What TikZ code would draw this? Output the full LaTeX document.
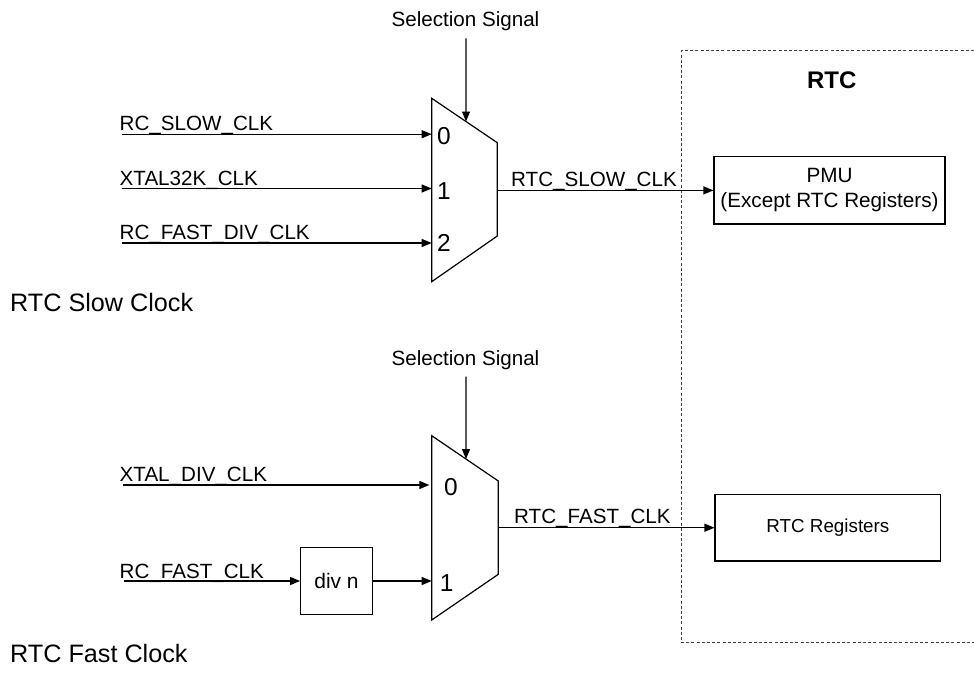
\documentclass[tikz,border=0pt]{standalone}
\usepackage{fontspec}
\setmainfont{Liberation Sans}
\usetikzlibrary{arrows.meta,calc}
\begin{document}
\begin{tikzpicture}[x=1pt,y=-1pt,
  wire/.style={line width=1.2pt,draw=black},
  arr/.style={wire,-{Triangle[length=10pt,width=8pt]}},
  lbl/.style={inner sep=0pt,font=\fontsize{20.6pt}{24pt}\selectfont},
  digit/.style={inner sep=0pt,font=\fontsize{24.5pt}{28pt}\selectfont},
  title/.style={inner sep=0pt,font=\fontsize{25.2pt}{29pt}\selectfont},
  blockbox/.style={draw,line width=1.2pt,inner sep=0pt,align=center},
  rtcframe/.style={draw=black!75,line width=1pt,dash pattern=on 3pt off 2.2pt}
]
\useasboundingbox (0,0) rectangle (974,672);

% ---------- RTC frame ----------
\draw[rtcframe] (974,50.7) -- (681.5,50.7) -- (681.5,642.7) -- (974,642.7);
\node[inner sep=0pt,font=\fontsize{24pt}{28pt}\selectfont\bfseries,anchor=base] (rtc) at (831.7,88.3) {RTC};

% ---------- Mux 1 ----------
\coordinate (m1tl) at (431.7,98.3);
\coordinate (m1bl) at (431.7,281.7);
\coordinate (m1tr) at (497.3,142.7);
\coordinate (m1br) at (497.3,236);
\draw[wire,line join=miter] (m1tl) -- (m1tr) -- (m1br) -- (m1bl) -- cycle;
\node[digit] (d10) at (444,136) {0};
\node[digit] (d11) at (444,190.7) {1};
\node[digit] (d12) at (444,242.7) {2};

% inputs of mux 1
\coordinate (i10) at (121.7,134.2);
\coordinate (i11) at (121.7,188.5);
\coordinate (i12) at (121.7,243.0);
\node[lbl,anchor=base west] (l10) at (119.5,130.7) {RC\_SLOW\_CLK};
\node[lbl,anchor=base west] (l11) at (119.5,185.0) {XTAL32K\_CLK};
\node[lbl,anchor=base west] (l12) at (119.5,239.5) {RC\_FAST\_DIV\_CLK};
\draw[arr] (i10) -- (i10 -| m1tl);
\draw[arr] (i11) -- (i11 -| m1tl);
\draw[arr] (i12) -- (i12 -| m1tl);

% selection signal 1
\node[lbl,anchor=base] (sel1) at (465.5,26) {Selection Signal};
\coordinate (s1top) at (466,38.3);
\coordinate (s1bot) at ($(m1tl)!0.523!(m1tr)$);
\draw[arr] (s1top) -- (s1bot);

% PMU
\node[blockbox,minimum width=231pt,minimum height=67.3pt,
      font=\fontsize{20.7pt}{25pt}\selectfont] (pmu) at (829.5,190.4)
      {PMU\\(Except RTC Registers)};
\coordinate (m1out) at (497.3,190.4);
\draw[arr] (m1out) -- (pmu.west);
\node[lbl,anchor=base west] (o1) at (511,186.5) {RTC\_SLOW\_CLK};

\node[title,anchor=base west] (slowt) at (10,311.7) {RTC Slow Clock};

% ---------- Mux 2 ----------
\coordinate (m2tl) at (431.7,435.7);
\coordinate (m2bl) at (431.7,620);
\coordinate (m2tr) at (498.3,481);
\coordinate (m2br) at (498.3,574.3);
\draw[wire,line join=miter] (m2tl) -- (m2tr) -- (m2br) -- (m2bl) -- cycle;
\node[digit] (d20) at (451,486.7) {0};
\node[digit] (d21) at (446.7,582.7) {1};

% selection signal 2
\node[lbl,anchor=base] (sel2) at (465.5,365.5) {Selection Signal};
\coordinate (s2top) at (466,376.7);
\coordinate (s2bot) at ($(m2tl)!0.515!(m2tr)$);
\draw[arr] (s2top) -- (s2bot);

% inputs of mux 2
\coordinate (i20) at (123,485);
\node[lbl,anchor=base west] (l20) at (119.5,481.5) {XTAL\_DIV\_CLK};
\coordinate (i20end) at (429.3,485);
\draw[arr] (i20) -- (i20end);

\node[blockbox,minimum width=71.6pt,minimum height=66.6pt,
      font=\fontsize{21pt}{25pt}\selectfont] (divn) at (336.5,581) {div n};
\coordinate (i21) at (124,581);
\node[lbl,anchor=base west] (l21) at (119.5,578.5) {RC\_FAST\_CLK};
\draw[arr] (i21) -- (divn.west);
\draw[arr] (divn.east) -- (divn.east -| m2tl);

% RTC registers
\node[blockbox,minimum width=225.7pt,minimum height=66.7pt,
      font=\fontsize{18.8pt}{22pt}\selectfont] (regs) at (827.9,527.7) {RTC Registers};
\coordinate (m2out) at (498.3,527.7);
\draw[arr] (m2out) -- (regs.west);
\node[lbl,anchor=base west] (o2) at (514,523.5) {RTC\_FAST\_CLK};

\node[title,anchor=base west] (fastt) at (10,662.3) {RTC Fast Clock};
\end{tikzpicture}
\end{document}
